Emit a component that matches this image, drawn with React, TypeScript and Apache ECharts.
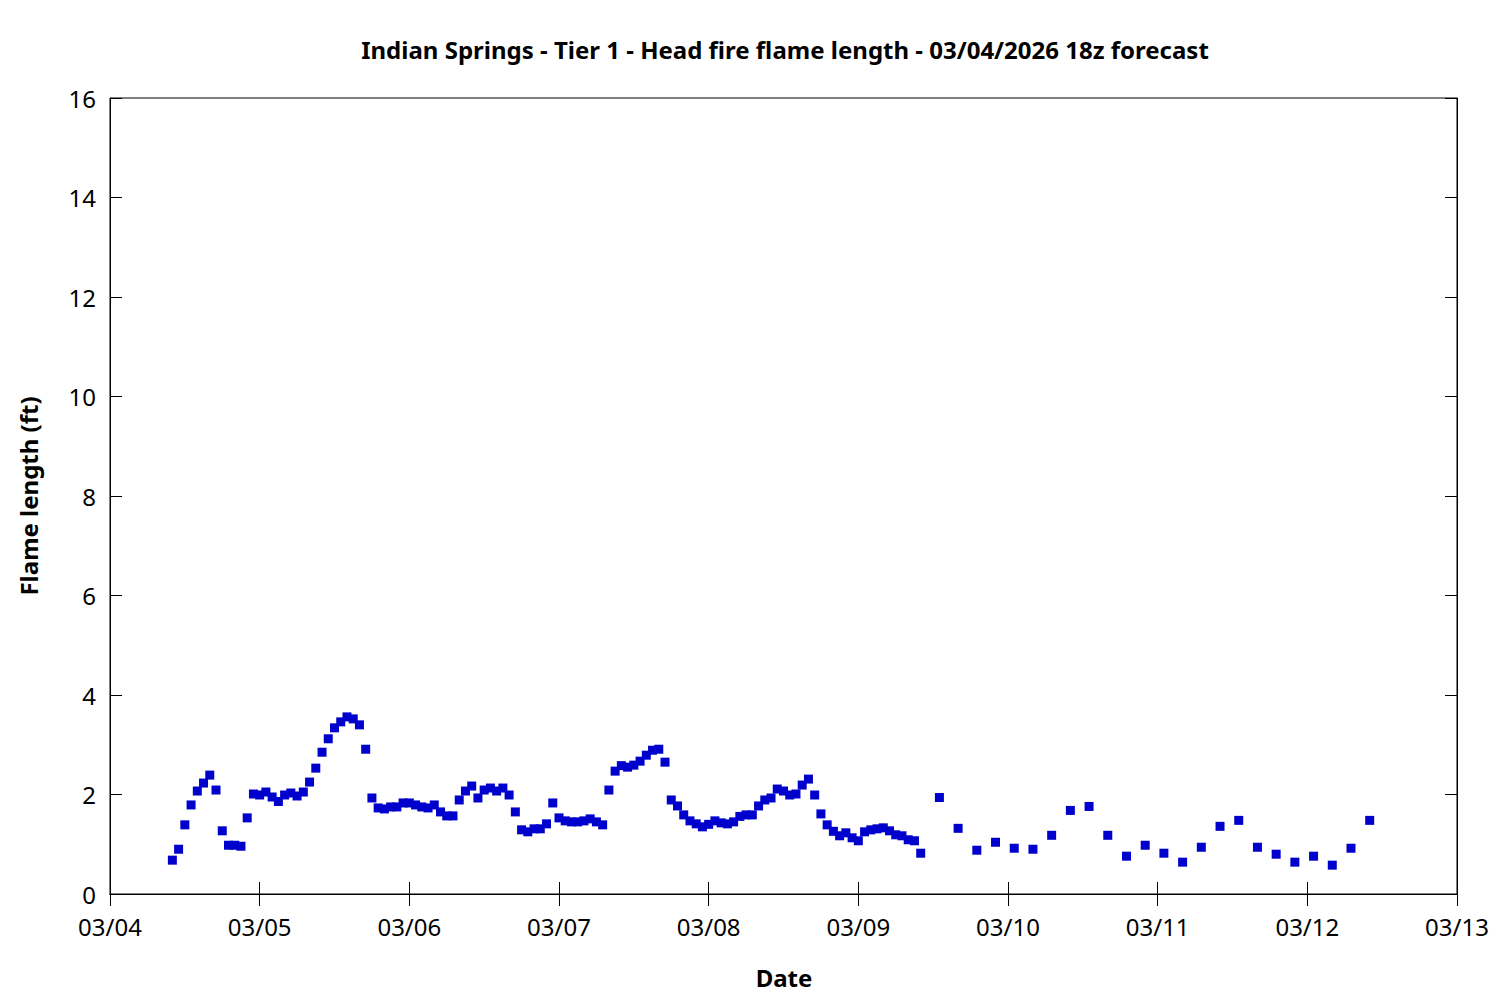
import React, { useEffect, useRef } from "react";
import * as echarts from "echarts";

const titleText = "Indian Springs - Tier 1 - Head fire flame length - 03/04/2026 18z forecast";
const xAxisTitle = "Date";
const yAxisTitle = "Flame length (ft)";

// Axis range (UTC)
const axisStart = Date.UTC(2026, 2, 4, 0);
const axisEnd = Date.UTC(2026, 2, 13, 0);
const yTicks = [0, 2, 4, 6, 8, 10, 12, 14, 16];

// Hourly forecast: 03/04 10z .. 03/09 10z
const hourlyStart = Date.UTC(2026, 2, 4, 10);
const hourlyValues = [
  0.68, 0.9, 1.39, 1.79, 2.07, 2.23, 2.39, 2.09, 1.27, 0.98, 0.98, 0.96,
  1.53, 2.01, 1.99, 2.05, 1.95, 1.86, 1.99, 2.03, 1.97, 2.05, 2.25, 2.53,
  2.85, 3.12, 3.34, 3.46, 3.56, 3.52, 3.4, 2.91, 1.93, 1.73, 1.71, 1.75,
  1.75, 1.83, 1.83, 1.79, 1.75, 1.73, 1.79, 1.65, 1.57, 1.57, 1.89, 2.07,
  2.17, 1.93, 2.09, 2.13, 2.07, 2.13, 1.99, 1.65, 1.29, 1.25, 1.31, 1.31,
  1.41, 1.83, 1.53, 1.47, 1.45, 1.45, 1.47, 1.51, 1.45, 1.39, 2.09, 2.47,
  2.58, 2.55, 2.59, 2.67, 2.79, 2.89, 2.91, 2.65, 1.89, 1.77, 1.59, 1.47,
  1.41, 1.35, 1.4, 1.47, 1.43, 1.41, 1.45, 1.56, 1.59, 1.59, 1.77, 1.89,
  1.93, 2.11, 2.07, 1.99, 2.01, 2.19, 2.31, 1.99, 1.61, 1.39, 1.26, 1.17,
  1.23, 1.13, 1.07, 1.25, 1.29, 1.31, 1.33, 1.27, 1.19, 1.17, 1.09, 1.07,
  0.82,
];

// 3-hourly forecast: 03/09 13z .. 03/12 10z
const threeHourlyStart = Date.UTC(2026, 2, 9, 13);
const threeHourlyValues = [
  1.94, 1.32, 0.88, 1.04, 0.92, 0.9, 1.18, 1.68, 1.76, 1.18, 0.76, 0.98,
  0.82, 0.64, 0.94, 1.36, 1.48, 0.94, 0.8, 0.64, 0.76, 0.58, 0.92, 1.48,
];

const HOUR = 3600000;
const DAY = 86400000;

function pad(n: number) {
  return n < 10 ? "0" + n : String(n);
}
function fmtDate(v: number) {
  const d = new Date(v);
  return pad(d.getUTCMonth() + 1) + "/" + pad(d.getUTCDate());
}

export default function App() {
  const ref = useRef<HTMLDivElement>(null);
  useEffect(() => {
    if (!ref.current) return;
    const chart = echarts.init(ref.current, undefined, { renderer: "svg" });
    const data: [number, number][] = [];
    hourlyValues.forEach((v, i) => data.push([hourlyStart + i * HOUR, v]));
    threeHourlyValues.forEach((v, i) => data.push([threeHourlyStart + i * 3 * HOUR, v]));

    const font = "'Noto Sans', 'DejaVu Sans', sans-serif";
    const axisLineStyle = { color: "#000", width: 1 };

    chart.setOption({
      animation: false,
      backgroundColor: "#fff",
      textStyle: { fontFamily: font },
      grid: {
        left: 110,
        right: 43,
        top: 98,
        bottom: 106,
        show: true,
        borderColor: "#000",
        borderWidth: 1,
        backgroundColor: "transparent",
      },
      title: {
        text: titleText,
        left: 780,
        top: 32,
        textAlign: "center",
        textStyle: { fontFamily: font, fontSize: 24, fontWeight: "bold", color: "#000" },
      },
      graphic: [
        {
          type: "text",
          x: 784,
          y: 977,
          style: {
            text: xAxisTitle,
            fontFamily: font,
            fontSize: 24,
            fontWeight: "bold",
            fill: "#000",
            align: "center",
            verticalAlign: "middle",
          },
        },
        {
          type: "text",
          x: 28,
          y: 496,
          rotation: Math.PI / 2,
          style: {
            text: yAxisTitle,
            fontFamily: font,
            fontSize: 24,
            fontWeight: "bold",
            fill: "#000",
            align: "center",
            verticalAlign: "middle",
          },
        },
      ],
      xAxis: [
        {
          type: "value",
          position: "bottom",
          min: axisStart,
          max: axisEnd,
          interval: DAY,
          axisLine: { show: true, lineStyle: axisLineStyle },
          axisTick: { show: true, inside: true, length: 12, lineStyle: axisLineStyle },
          splitLine: { show: false },
          axisLabel: {
            formatter: (v: number) => fmtDate(v),
            fontSize: 24,
            color: "#000",
            fontFamily: font,
            margin: 20,
          },
        },
        {
          type: "value",
          position: "top",
          min: axisStart,
          max: axisEnd,
          interval: DAY,
          axisLine: { show: true, lineStyle: axisLineStyle },
          axisTick: { show: true, inside: true, length: 12, lineStyle: axisLineStyle },
          splitLine: { show: false },
          axisLabel: { show: false },
        },
      ],
      yAxis: [
        {
          type: "value",
          position: "left",
          min: yTicks[0],
          max: yTicks[yTicks.length - 1],
          interval: yTicks[1] - yTicks[0],
          axisLine: { show: true, lineStyle: axisLineStyle },
          axisTick: { show: true, inside: true, length: 12, lineStyle: axisLineStyle },
          splitLine: { show: false },
          axisLabel: { fontSize: 24, color: "#000", fontFamily: font, margin: 14 },
        },
        {
          type: "value",
          position: "right",
          min: yTicks[0],
          max: yTicks[yTicks.length - 1],
          interval: yTicks[1] - yTicks[0],
          axisLine: { show: true, lineStyle: axisLineStyle },
          axisTick: { show: true, inside: true, length: 12, lineStyle: axisLineStyle },
          splitLine: { show: false },
          axisLabel: { show: false },
        },
      ],
      series: [
        {
          type: "scatter",
          xAxisIndex: 0,
          yAxisIndex: 0,
          symbol: "rect",
          symbolSize: 9,
          itemStyle: { color: "#0000cc", opacity: 1 },
          data,
        },
      ],
    });
    return () => chart.dispose();
  }, []);

  return (
    <div
      ref={ref}
      style={{ position: "fixed", left: 0, top: 0, width: 1500, height: 1000, background: "#fff" }}
    />
  );
}
